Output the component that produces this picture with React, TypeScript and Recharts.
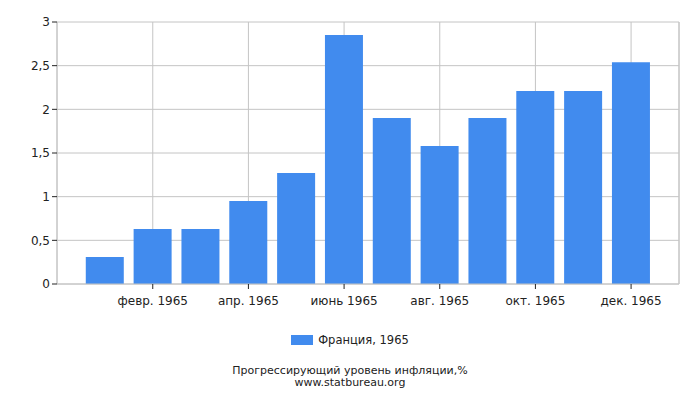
import React from "react";
import { Bar, BarChart, CartesianGrid, XAxis, YAxis } from "recharts";

// months of 1965, as labelled on the category axis
const months = [
  "янв. 1965",
  "февр. 1965",
  "март 1965",
  "апр. 1965",
  "май 1965",
  "июнь 1965",
  "июль 1965",
  "авг. 1965",
  "сент. 1965",
  "окт. 1965",
  "нояб. 1965",
  "дек. 1965",
];

// cumulative inflation, France 1965, %
const france1965 = [0.31, 0.63, 0.63, 0.95, 1.27, 2.85, 1.9, 1.58, 1.9, 2.21, 2.21, 2.54];

// only every other month gets a label (and a grid line)
const xTicks = ["февр. 1965", "апр. 1965", "июнь 1965", "авг. 1965", "окт. 1965", "дек. 1965"];
const yTicks = [0, 0.5, 1, 1.5, 2, 2.5, 3];

const seriesName = "Франция, 1965";
const title = "Прогрессирующий уровень инфляции,%";
const source = "www.statbureau.org";

const data = months.map((month, i) => ({ month, value: france1965[i] }));

const FONT = "'DejaVu Sans', sans-serif";
const GRID = "#c4c4c4";
const BAR = "#418bee";
const INK = "#222";

export default function App() {
  return (
    <div style={{ position: "absolute", left: 0, top: 0, width: 700, height: 400, background: "#fff", fontFamily: FONT }}>
      <BarChart
        width={700}
        height={400}
        data={data}
        margin={{ top: 22, right: 0, left: 0, bottom: 0 }}
        barCategoryGap="10%"
      >
        <CartesianGrid yAxisId="left" stroke={GRID} strokeWidth={1} />
        <XAxis
          dataKey="month"
          ticks={xTicks}
          interval={0}
          height={116}
          padding={{ left: 24, right: 24 }}
          axisLine={{ stroke: GRID }}
          tickLine={{ stroke: INK }}
          tickSize={5}
          tick={{ fill: INK, fontSize: 12, fontFamily: FONT }}
          tickMargin={7}
        />
        <YAxis
          yAxisId="left"
          domain={[0, 3]}
          ticks={yTicks}
          width={57}
          axisLine={{ stroke: GRID }}
          tickLine={{ stroke: INK }}
          tickSize={5}
          tick={{ fill: INK, fontSize: 12, fontFamily: FONT }}
          tickMargin={2}
          tickFormatter={(v: number) => String(v).replace(".", ",")}
        />
        {/* right-hand axis only closes the plot frame */}
        <YAxis
          yAxisId="right"
          orientation="right"
          domain={[0, 3]}
          width={21}
          tick={false}
          tickLine={false}
          axisLine={{ stroke: GRID }}
        />
        <Bar yAxisId="left" dataKey="value" name={seriesName} fill={BAR} isAnimationActive={false} />
      </BarChart>

      {/* legend */}
      <div
        style={{
          position: "absolute",
          top: 333,
          left: 0,
          width: 700,
          display: "flex",
          justifyContent: "center",
          alignItems: "center",
          fontSize: 11.5,
          color: INK,
        }}
      >
        <span style={{ display: "inline-block", width: 22, height: 10, background: BAR, marginRight: 5 }} />
        <span>{seriesName}</span>
      </div>

      {/* title and source */}
      <div
        style={{
          position: "absolute",
          top: 365,
          left: 0,
          width: 700,
          textAlign: "center",
          fontSize: 11,
          lineHeight: "12px",
          color: INK,
        }}
      >
        <div>{title}</div>
        <div>{source}</div>
      </div>
    </div>
  );
}
